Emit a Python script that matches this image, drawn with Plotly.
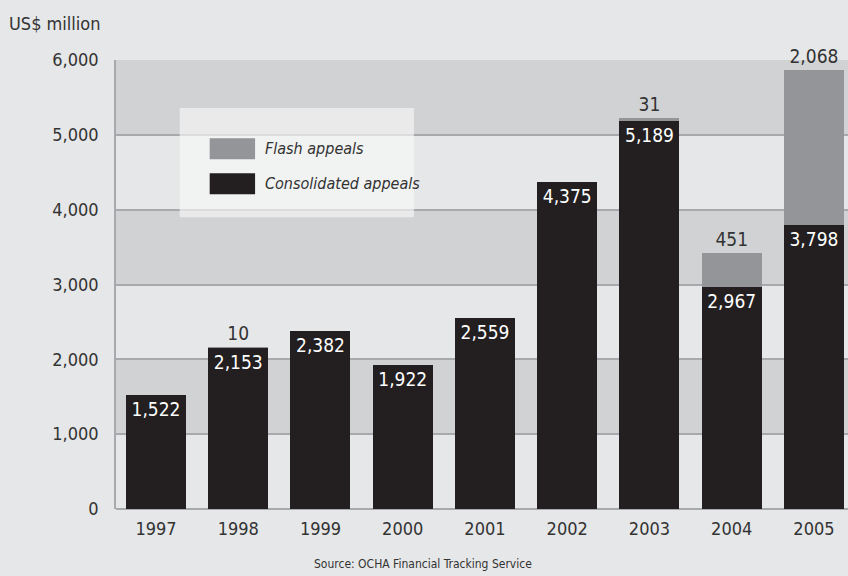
import plotly.graph_objects as go

years = ["1997", "1998", "1999", "2000", "2001", "2002", "2003", "2004", "2005"]
consolidated = [1522, 2153, 2382, 1922, 2559, 4375, 5189, 2967, 3798]
flash = [0, 10, 0, 0, 0, 0, 31, 451, 2068]
y_ticks = [0, 1000, 2000, 3000, 4000, 5000, 6000]

FONT = "DejaVu Sans Condensed, Roboto, sans-serif"
C_CONS = "#231f20"
C_FLASH = "#939598"
BG = "#e6e7e8"
BAND = "#d1d2d4"
GRID = "#a7a9ac"
TXT = "#333333"

fig = go.Figure()
fig.add_trace(go.Bar(
    x=years, y=consolidated, name="Consolidated appeals",
    marker=dict(color=C_CONS, line=dict(width=0)),
    text=[f"{v:,}" for v in consolidated],
    textposition="inside", insidetextanchor="end", textangle=0,
    textfont=dict(color="white", size=19, family=FONT),
    constraintext="none", showlegend=False, cliponaxis=False,
))
fig.add_trace(go.Bar(
    x=years, y=flash, name="Flash appeals",
    marker=dict(color=C_FLASH, line=dict(width=0)),
    text=[f"{v:,}" if v > 0 else "" for v in flash],
    textposition="outside", textangle=0,
    textfont=dict(color=TXT, size=19, family=FONT),
    constraintext="none", showlegend=False, cliponaxis=False,
))

shapes = []
for lo in range(1000, 6000, 2000):
    shapes.append(dict(type="rect", xref="paper", yref="y", x0=0, x1=1, y0=lo, y1=lo + 1000,
                       fillcolor=BAND, line=dict(width=0), layer="below"))
# legend box
shapes.append(dict(type="rect", xref="paper", yref="paper", x0=0.087, x1=0.407, y0=0.65, y1=0.893,
                   fillcolor="rgba(248,248,248,0.65)", line=dict(width=0), layer="above"))
shapes.append(dict(type="rect", xref="paper", yref="paper", x0=0.128, x1=0.190, y0=0.779, y1=0.826,
                   fillcolor=C_FLASH, line=dict(width=0), layer="above"))
shapes.append(dict(type="rect", xref="paper", yref="paper", x0=0.128, x1=0.190, y0=0.701, y1=0.748,
                   fillcolor=C_CONS, line=dict(width=0), layer="above"))

annotations = [
    dict(text="US$ million", xref="paper", yref="paper", x=0, y=1.082, xanchor="right", yanchor="middle",
         xshift=-13, showarrow=False, font=dict(size=18, color=TXT, family=FONT)),
    dict(text="<i>Flash appeals</i>", xref="paper", yref="paper", x=0.201, y=0.8025, xanchor="left",
         yanchor="middle", showarrow=False, font=dict(size=16, color=TXT, family=FONT)),
    dict(text="<i>Consolidated appeals</i>", xref="paper", yref="paper", x=0.201, y=0.7245, xanchor="left",
         yanchor="middle", showarrow=False, font=dict(size=16, color=TXT, family=FONT)),
    dict(text="Source: OCHA Financial Tracking Service", xref="paper", yref="paper", x=0.42, y=-0.122,
         xanchor="center", yanchor="middle", showarrow=False, font=dict(size=12, color=TXT, family=FONT)),
]

fig.update_layout(
    width=848, height=576,
    barmode="stack", bargap=0.27,
    paper_bgcolor=BG, plot_bgcolor=BG,
    margin=dict(l=116, r=0, t=60, b=67),
    font=dict(family=FONT, size=18, color=TXT),
    shapes=shapes, annotations=annotations,
)
fig.update_xaxes(range=[-0.486, 8.414], showgrid=False, showline=False, ticks="",
                 tickfont=dict(size=18, family=FONT, color=TXT), ticklabelstandoff=7)
fig.update_yaxes(range=[0, 6000], tickvals=y_ticks, tickformat=",d", showgrid=True, gridcolor=GRID,
                 gridwidth=1.5, showline=True, linecolor=GRID, linewidth=1.5, zeroline=True,
                 zerolinecolor=GRID, zerolinewidth=1.5, ticks="", ticklabelstandoff=12,
                 tickfont=dict(size=18, family=FONT, color=TXT))

fig.write_html("out.html", config={"displayModeBar": False},
               post_script="document.body.style.margin='0px';document.body.style.overflow='hidden';")
